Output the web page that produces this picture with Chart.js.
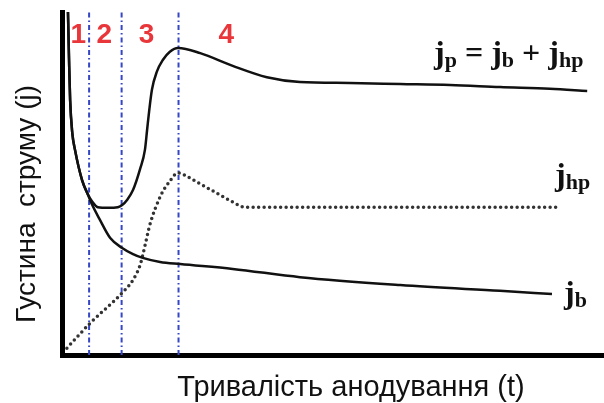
<!DOCTYPE html>
<html>
<head>
<meta charset="utf-8">
<script src="https://cdn.jsdelivr.net/npm/chart.js@4"></script>
<style>
  html, body { margin: 0; padding: 0; background: #fff; }
  #wrap { width: 604px; height: 403px; }
</style>
</head>
<body>
<div id="wrap"><canvas id="chart" width="604" height="403"></canvas></div>
<script>
// time axis (arbitrary units 0..100) and current density (arbitrary units 0..100)
const jpT = [1.1, 1.3, 1.5, 1.9, 2.4, 3.7, 4.8, 5.5, 6.6, 8.5, 10.3, 11.1, 12.0, 13.1, 14.4, 15.3, 15.7, 16.1, 16.6, 17.5, 18.6, 19.9, 21.4, 25.5, 31.5, 37.8, 43.9, 53.1, 62.4, 71.6, 80.8, 90.0, 96.9];
const jp  = [100, 86.0, 74.3, 64.7, 59.8, 51.0, 46.7, 44.9, 43.1, 42.9, 43.1, 43.7, 45.2, 48.1, 54.2, 59.8, 65.6, 71.4, 77.4, 82.6, 86.0, 88.4, 89.5, 88.0, 84.3, 81.0, 79.6, 79.3, 79.0, 78.7, 78.1, 77.6, 77.0];

const jbT = [1.1, 1.3, 1.5, 1.9, 2.4, 3.7, 4.8, 5.5, 7.0, 8.9, 11.1, 13.1, 14.9, 18.1, 21.8, 31.5, 43.9, 62.4, 80.8, 90.4];
const jb  = [100, 86.0, 74.3, 64.7, 59.8, 51.0, 46.7, 44.0, 39.4, 34.1, 31.2, 29.4, 28.3, 27.1, 26.5, 25.1, 22.7, 20.4, 18.7, 17.8];

const jhpT = [0.9, 5.2, 11.1, 13.1, 14.4, 15.3, 16.2, 18.1, 19.9, 21.4, 23.6, 25.5, 28.2, 31.5, 33.8, 38.4, 43.9, 91.5];
const jhp  = [2.0, 9.3, 18.1, 21.9, 26.2, 31.8, 37.9, 46.1, 50.7, 53.1, 51.6, 49.9, 47.5, 44.6, 43.1, 43.1, 43.1, 43.1];

// stage boundaries and stage numbers
const boundaries = [5.0, 11.0, 21.5];
const stageLabels = ['1', '2', '3', '4'];
const stageX = [3.0, 7.8, 15.6, 30.3];

const xTitle = 'Тривалість анодування (t)';
const yTitle = 'Густина  струму (j)';

const toPoints = (xs, ys) => xs.map((x, i) => ({ x, y: ys[i] }));

const curveStyle = {
  pointRadius: 0,
  fill: false,
  cubicInterpolationMode: 'monotone'
};

const datasets = [
  Object.assign({ data: toPoints(jpT, jp), borderColor: '#111', borderWidth: 2.5 }, curveStyle),
  Object.assign({ data: toPoints(jbT, jb), borderColor: '#111', borderWidth: 2.5 }, curveStyle),
  Object.assign({
    data: toPoints(jhpT, jhp), borderColor: '#333', borderWidth: 3.5,
    borderDash: [0, 5.5], borderCapStyle: 'round'
  }, curveStyle)
];
boundaries.forEach(b => {
  datasets.push({
    data: [{ x: b, y: 0 }, { x: b, y: 100 }],
    borderColor: '#3646c4', borderWidth: 2, borderDash: [5, 3, 1.5, 3],
    pointRadius: 0, tension: 0
  });
});

// draws j with a lowered smaller subscript, left to right
function drawSub(ctx, parts, x, y, big, small) {
  ctx.textAlign = 'left';
  ctx.textBaseline = 'alphabetic';
  parts.forEach(([txt, sub]) => {
    ctx.font = `bold ${sub ? small : big}px "Liberation Serif", "DejaVu Serif", serif`;
    ctx.fillText(txt, x, y + (sub ? 4 : 0));
    x += ctx.measureText(txt).width;
  });
}

const textPlugin = {
  id: 'texts',
  afterDraw(chart) {
    const { ctx, scales } = chart;
    ctx.save();
    ctx.fillStyle = '#111';

    // axis titles
    ctx.font = '29px "Liberation Sans", Arial, sans-serif';
    ctx.textAlign = 'center';
    ctx.textBaseline = 'alphabetic';
    ctx.fillText(xTitle, 351, 396);
    ctx.save();
    ctx.translate(35, 204);
    ctx.rotate(-Math.PI / 2);
    ctx.font = '28px "Liberation Sans", Arial, sans-serif';
    ctx.fillText(yTitle, 0, 0);
    ctx.restore();

    // stage numbers
    ctx.fillStyle = '#e8363a';
    ctx.font = 'bold 28px "Liberation Sans", Arial, sans-serif';
    ctx.textAlign = 'center';
    stageLabels.forEach((s, i) => {
      ctx.fillText(s, scales.x.getPixelForValue(stageX[i]), 43);
    });

    // curve labels
    ctx.fillStyle = '#111';
    drawSub(ctx, [['j', 0], ['p', 1], [' = ', 0], ['j', 0], ['b', 1], [' + ', 0], ['j', 0], ['hp', 1]], 434, 63, 32, 22);
    drawSub(ctx, [['j', 0], ['hp', 1]], 555, 185, 32, 22);
    drawSub(ctx, [['j', 0], ['b', 1]], 564, 303, 32, 22);
    ctx.restore();
  }
};

new Chart(document.getElementById('chart'), {
  type: 'line',
  data: { datasets },
  options: {
    responsive: false,
    animation: false,
    events: [],
    layout: { padding: { left: 62, top: 12, right: 0, bottom: 48 } },
    plugins: { legend: { display: false }, tooltip: { enabled: false } },
    scales: {
      x: {
        type: 'linear', min: 0, max: 100,
        ticks: { display: false },
        grid: { display: false, drawTicks: false },
        border: { display: true, color: '#000', width: 5 }
      },
      y: {
        min: 0, max: 100,
        ticks: { display: false },
        grid: { display: false, drawTicks: false },
        border: { display: true, color: '#000', width: 5 }
      }
    }
  },
  plugins: [textPlugin]
});
</script>
</body>
</html>
